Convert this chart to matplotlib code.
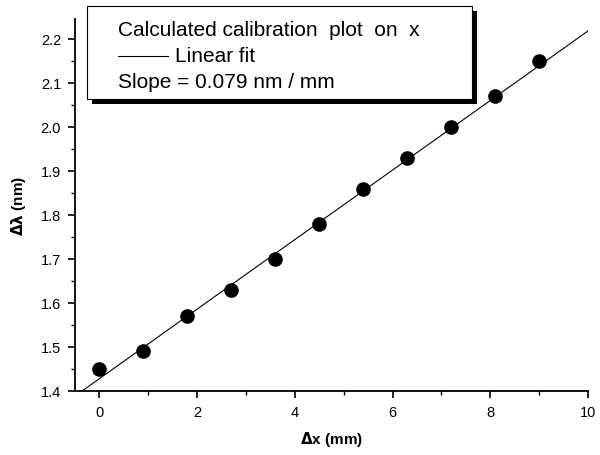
import numpy as np
import matplotlib.pyplot as plt
from matplotlib.patches import Rectangle
from matplotlib.lines import Line2D
from matplotlib.ticker import MultipleLocator

plt.rcParams['font.family'] = ['Liberation Sans', 'DejaVu Sans']

# measured points
dx = [0.0, 0.9, 1.8, 2.7, 3.6, 4.5, 5.4, 6.3, 7.2, 8.1, 9.0]
dlam = [1.45, 1.49, 1.57, 1.63, 1.70, 1.78, 1.86, 1.93, 2.00, 2.07, 2.15]

# linear fit
slope = 0.079
intercept = 1.428
fit_x = [-0.5, 10.0]

fig = plt.figure(figsize=(6, 4.56), dpi=100)
ax = fig.add_axes([0.125, 0.1404, 0.855, 0.8156])

fx = np.array(fit_x)
ax.plot(fx, slope * fx + intercept, color='black', lw=0.8)
ax.plot(dx, dlam, 'o', color='black', ms=9.5)

ax.set_xlim(-0.5, 10)
ax.set_ylim(1.4, 2.245)
ax.xaxis.set_major_locator(MultipleLocator(2))
ax.xaxis.set_minor_locator(MultipleLocator(1))
ax.yaxis.set_minor_locator(MultipleLocator(0.05))
yt = np.arange(1.4, 2.21, 0.1)
ax.set_yticks(yt)
ax.set_yticklabels(['%.1f' % v for v in yt])

for s in ['top', 'right']:
    ax.spines[s].set_visible(False)
for s in ['left', 'bottom']:
    ax.spines[s].set_linewidth(1.3)
ax.tick_params(which='major', direction='out', length=5, width=1.2, labelsize=10.5)
ax.tick_params(axis='y', which='major', pad=5)
ax.tick_params(axis='x', which='major', pad=5)
ax.tick_params(which='minor', direction='out', length=3, width=1.0)

ax.set_xlabel(r'$\mathbf{\Delta}$x (mm)', fontsize=11, fontweight='bold', labelpad=7)
ax.set_ylabel(r'$\mathbf{\Delta\lambda}$ (nm)', fontsize=11, fontweight='bold', labelpad=9)

# legend box with shadow (figure pixel coords -> fraction)
W, H = 600.0, 456.0
def fr(x, y):
    return x / W, 1 - y / H

bx0, by0, bx1, by1 = 87, 7, 472, 100
sh = Rectangle(fr(bx0 + 5, by1 + 5), (bx1 - bx0) / W, (by1 - by0) / H,
               transform=fig.transFigure, facecolor='black', edgecolor='none', zorder=5)
box = Rectangle(fr(bx0, by1), (bx1 - bx0) / W, (by1 - by0) / H,
                transform=fig.transFigure, facecolor='white', edgecolor='black', lw=0.8, zorder=6)
fig.patches.extend([sh, box])

fig.text(*fr(118, 30), 'Calculated calibration  plot  on  x', fontsize=15,
         va='center', ha='left', zorder=7)
fig.lines.append(Line2D([118 / W, 168 / W], [1 - 57 / H, 1 - 57 / H],
                        transform=fig.transFigure, color='black', lw=0.8, zorder=7))
fig.text(*fr(175, 57), 'Linear fit', fontsize=15, va='center', ha='left', zorder=7)
fig.text(*fr(118, 83), 'Slope = 0.079 nm / mm', fontsize=15, va='center', ha='left', zorder=7)

fig.savefig('out.png', dpi=100)
